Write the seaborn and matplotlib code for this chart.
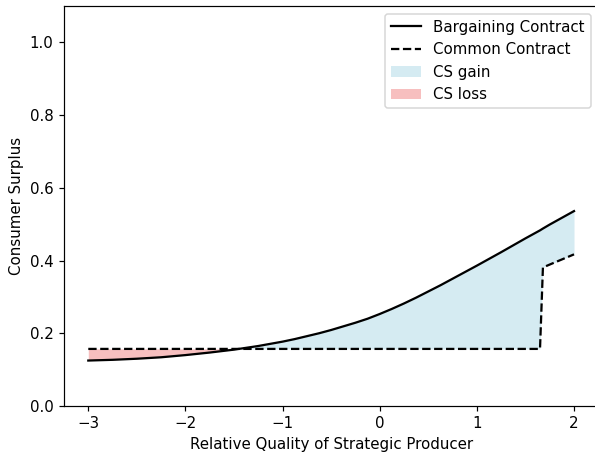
import numpy as np
import matplotlib
matplotlib.use("Agg")
import matplotlib.pyplot as plt
import seaborn as sns
from matplotlib.lines import Line2D
from matplotlib.patches import Patch

# Relative quality grid (with the two points around the common-contract switch)
quality = [-3.000, -2.750, -2.500, -2.250, -2.000, -1.750, -1.500, -1.375, -1.250,
           -1.125, -1.000, -0.875, -0.750, -0.625, -0.500, -0.375, -0.250, -0.125,
           0.000, 0.125, 0.250, 0.375, 0.500, 0.625, 0.750, 0.875, 1.000, 1.250,
           1.500, 1.650, 1.680, 1.750, 2.000]

# Consumer surplus under the bargaining contract
cs_bargaining = [0.125, 0.127, 0.130, 0.134, 0.140, 0.147, 0.155, 0.160, 0.165,
                 0.171, 0.177, 0.184, 0.192, 0.200, 0.209, 0.219, 0.229, 0.240,
                 0.253, 0.267, 0.282, 0.298, 0.315, 0.332, 0.350, 0.368, 0.386, 0.423,
                 0.461, 0.483, 0.488, 0.499, 0.536]

# Consumer surplus under the common contract
cs_common = [0.157, 0.157, 0.157, 0.157, 0.157, 0.157, 0.157, 0.157, 0.157,
             0.157, 0.157, 0.157, 0.157, 0.157, 0.157, 0.157, 0.157, 0.157,
             0.157, 0.157, 0.157, 0.157, 0.157, 0.157, 0.157, 0.157, 0.157, 0.157,
             0.157, 0.157, 0.381, 0.389, 0.417]

DPI = 108
fig = plt.figure(figsize=(595 / DPI, 453 / DPI), dpi=DPI)
ax = fig.add_axes([64 / 595, 47 / 453, 534.3 / 595, 400 / 453])

x = np.array(quality)
yb = np.array(cs_bargaining)
yc = np.array(cs_common)

sns.lineplot(x=quality, y=cs_bargaining, color="black", linewidth=1.5, ax=ax,
             sort=False, legend=False)
sns.lineplot(x=quality, y=cs_common, color="black", linewidth=1.5, linestyle="--",
             ax=ax, sort=False, legend=False)

ax.fill_between(x, yc, yb, where=yb >= yc, interpolate=True,
                color="lightblue", alpha=0.5, linewidth=0)
ax.fill_between(x, yc, yb, where=yb < yc, interpolate=True,
                color="lightcoral", alpha=0.5, linewidth=0)

ax.set_xlim(-3.25, 2.25)
ax.set_ylim(0, 1.1)
ax.set_xlabel("Relative Quality of Strategic Producer")
ax.set_ylabel("Consumer Surplus")
# the right edge of the frame falls just outside the canvas
ax.spines["right"].set_visible(False)

handles = [
    Line2D([0], [0], color="black", linewidth=1.5),
    Line2D([0], [0], color="black", linewidth=1.5, linestyle="--"),
    Patch(facecolor="lightblue", alpha=0.5),
    Patch(facecolor="lightcoral", alpha=0.5),
]
ax.legend(handles, ["Bargaining Contract", "Common Contract", "CS gain", "CS loss"],
          loc="upper right")

fig.savefig("out.png", dpi=DPI)
